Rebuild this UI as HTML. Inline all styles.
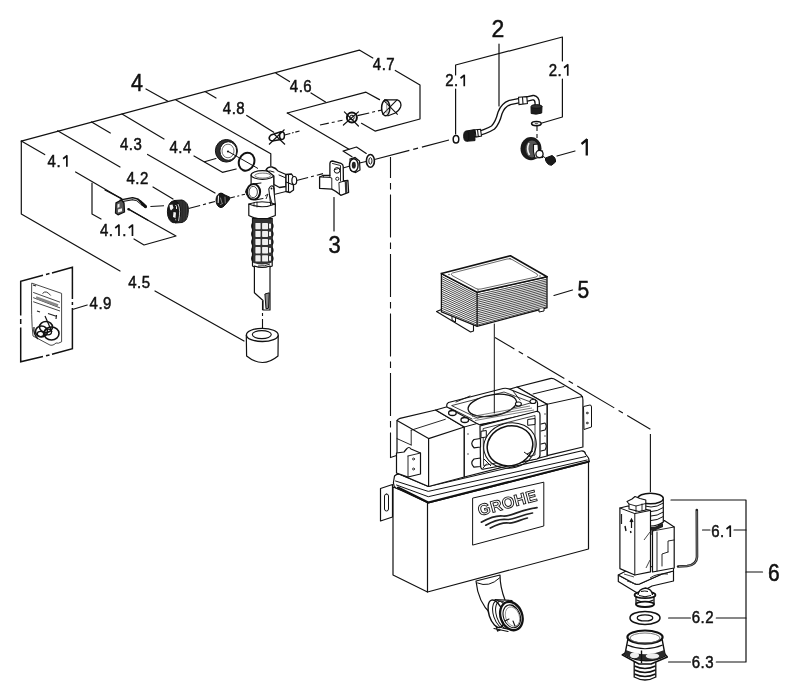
<!DOCTYPE html>
<html><head><meta charset="utf-8">
<style>
html,body{margin:0;padding:0;background:#fff;width:800px;height:700px;overflow:hidden}
svg{display:block;will-change:transform}
text{font-family:"Liberation Sans",sans-serif;fill:#111}
.lbl text{stroke:#111;stroke-width:0.45}
.s{fill:none;stroke:#111;stroke-width:1.2;stroke-linecap:round;stroke-linejoin:round}
.t{fill:none;stroke:#222;stroke-width:0.8}
.dd{fill:none;stroke:#111;stroke-width:1.1;stroke-dasharray:38 4 6 4}
.d2{fill:none;stroke:#111;stroke-width:1.1;stroke-dasharray:14 4 4 4}
.f{fill:#fff;stroke:#111;stroke-width:1.2;stroke-linejoin:round}
.k{fill:#1a1a1a;stroke:#111;stroke-width:1}
</style></head>
<body>
<svg width="800" height="700" viewBox="0 0 800 700">
<rect width="800" height="700" fill="#fff"/>

<!-- ===== structure lines ===== -->
<g id="struct" class="s">
  <path d="M21.3,141.1 L359.3,50.1 L372.8,58"/>
  <path d="M395.3,70.4 L420,85 L420,119 L375,131.1 L361.5,123.3"/>
  <path d="M21.3,141.1 L21.3,214 L120,271"/>
  <path d="M155,291 L244,341"/>
  <path d="M21.3,141.1 L44.7,154.6"/>
  <path d="M75.6,172 L122,199"/>
  <path d="M57.6,130.8 L120,167"/>
  <path d="M91.6,121.9 L110.3,133"/>
  <path d="M122,114 L164,139"/>
  <path d="M146,89 L167.5,101"/>
  <path d="M176,100 L270.8,153.75 L270.8,166"/>
  <path d="M205,91.6 L216,98"/>
  <path d="M246.75,115.4 L273.75,132.25"/>
  <path d="M276,73.3 L289.5,81.6"/>
  <path d="M311,93 L325.5,102"/>
  <path d="M287.3,113 L366,92.2 L379.5,99.6"/>
  <path d="M287.3,113 L349,149.25"/>
  <path d="M352,156.75 L343,151.1 L356.5,147 L366.25,153.4"/>
  <path d="M147.6,154.4 L215,193"/>
  <path d="M194,156 L222.4,172.3 L236.2,169"/>
  <path d="M204.5,161.75 L215.9,158.5"/>
  <path d="M92,183 L92,214 L101,219"/>
  <path d="M128,209 L176,236 L144,245 L134,239"/>
  <path d="M153,187 L173,199"/>
  <!-- 2 bracket -->
  <path d="M455.6,89 L455.6,134"/>
  <path d="M455.6,75 L455.6,65 L562.4,37 L562.4,61"/>
  <path d="M562.4,79 L562.4,117 L542,123"/>
  <path d="M499,44 L499,106"/>
  <path d="M557,156 L575,151"/>
  <!-- 3 leader -->
  <path d="M334,197.5 L334,231"/>
  <!-- 4.9 leader -->
  <path d="M73.2,309.2 L87.2,305"/>
  <!-- 5 leader -->
  <path d="M554,295.5 L572.5,290"/>
  <!-- 6 bracket -->
  <path d="M671,500 L746,500 L746,662 L716.3,662 M690.5,662 L668.6,662"/>
  <path d="M702.5,530 L710,530 M734,530 L746,530"/>
  <path d="M668.6,618 L690.5,618 M716.3,618 L746,618"/>
  <path d="M746,572 L762.5,572"/>
</g>

<!-- ===== dash-dot centre lines ===== -->
<g class="dd">
  <path d="M390.5,157 L390.5,457.5 L398,455" style="stroke-dasharray:43 5 6.5 5;stroke-dashoffset:22"/>
  <path d="M495,337.5 L650.4,429.2" style="stroke-dasharray:43 5 5 5;stroke-dashoffset:20.5"/>
  <path d="M650.4,434 L650.4,492" style="stroke-dasharray:none"/>
  <path d="M374.5,159.5 L453,139" style="stroke-dasharray:36 4 5 4 28 4 4 4 40"/>
</g>
<g class="d2">
  <path d="M150.4,206.5 L164,205.8"/>
  <path d="M188.5,208.5 L215,201.5" style="stroke-dasharray:12 3 3 3"/>
  <path d="M230,198 L245,194.2" style="stroke-dasharray:5 2.5 2 2.5"/>
  <path d="M296.5,180.5 L323,173.6" style="stroke-dasharray:12 3 3 3"/>
  <path d="M343,168 L350,166"/>
  <path d="M359.5,163 L366,161.5"/>
  <path d="M262.5,301 L262.5,333" style="stroke-dasharray:9 3 3 3"/>
  <path d="M284.5,135 L299.5,131" style="stroke-dasharray:6 1.8 1.6 1.8 6"/>
  <path d="M320,125 L342.5,120.3" style="stroke-dasharray:9 3 3 3"/>
  <path d="M357.5,115.6 L381.9,110" style="stroke-dasharray:12 3 3 3"/>
  <path d="M537,126 L537,138" style="stroke-dasharray:5 3"/>
</g>

<!-- ===== cistern ===== -->
<g id="cistern">
  <!-- body -->
  <path class="f" d="M393,487 L427.5,500 L588.5,460 L588.5,549 L427.5,592 L393,575 Z"/>
  <path class="s" d="M427.5,500 L427.5,592"/>
  <!-- logo panel -->
  <path class="s" d="M473,498 L543.8,482.2 L543.8,526 L473,545 Z" style="stroke-width:1"/>
  <path d="M481.3,522.2 C489,518 496,515 503,516 C511,517 519,510 537,507.6 M485.8,525.2 C493,521 500,518.5 507,519.5 C514,520 520,515 532.5,513 M490.3,528 C497,524.5 503,522 509,523 C515,523.5 520,519.5 527.4,518" fill="none" stroke="#222" stroke-width="1.7" stroke-linecap="round"/>
  <g transform="translate(479.5,516) rotate(-15)">
    <text x="0" y="0" font-size="16" font-weight="bold" style="fill:#fff;stroke:#111;stroke-width:0.9;letter-spacing:0.4px">GROHE</text>
  </g>
  <!-- left bracket -->
  <path class="f" d="M380.5,488.5 L392.5,484.5 L392.5,517 L380.5,521 Z"/>
  <rect x="384.5" y="494" width="4" height="17" rx="2" class="s" style="stroke-width:1"/>
  <!-- rim -->
  <path class="f" d="M394.5,476 Q397,473.5 400,474.5 L428.3,486.5 L581,451 Q585,450.5 585.5,454 L588.5,458 Q589.5,461 588.5,462 L428.3,503 L396,488 Q393,486 393.5,482 Z"/>
  <path class="s" d="M395.5,481 L428.3,491.4 L585.8,456.5" style="stroke-width:1"/>
  <path class="s" d="M396.5,485 L428.3,496.7 L587.1,460" style="stroke-width:1"/>
  <path class="s" d="M398,487.5 L428.3,502.5 L589,461.5" style="stroke-width:2"/>
  <!-- left lid block -->
  <path class="f" d="M397,470 L397,421 Q397.5,419 400,418.3 L435.7,410 L464.3,427 L464.3,477 L428.6,486.5 L397,473 Z"/>
  <path class="s" d="M397,420.5 L428.6,438.6 L464.3,427 M428.6,438.6 L428.6,486" />
  <path class="s" d="M411.2,430.2 L445.3,419.3 M411.2,430.2 L411.2,445 M397,438.6 L411.2,445" style="stroke-width:0.9"/>
  <!-- hinge bracket on left block -->
  <path class="f" d="M396.5,453 L404,452 L406.5,449 Q409,446 411,449 L420.5,453 L420.5,474 L408,477 L396.5,473 Z"/>
  <path class="s" d="M408,456 L408,477 M408,456 L420.5,453" style="stroke-width:0.9"/>
  <circle cx="413.5" cy="459" r="1" class="s" style="stroke-width:0.8"/>
  <circle cx="413.5" cy="469" r="1" class="s" style="stroke-width:0.8"/>
  <!-- right lid block -->
  <path class="f" d="M517,387 L550,378.6 Q553,378 556,380 L581,395 Q583,397 582.9,400 L582.9,447 L547,455.7 L547,404.3 Z"/>
  <path class="s" d="M547,404.3 L582.5,396.5 M533,394 L564,386.5 M547,404 L547,455.7" style="stroke-width:1"/>
  <path class="f" d="M583.5,406.5 L590,405 Q591.5,405 591.5,407 L591.5,427 L584,429.5 Z" style="stroke-width:1"/>
  <circle cx="587.2" cy="413" r="0.9" class="s" style="stroke-width:0.8"/>
  <circle cx="587.2" cy="423" r="0.9" class="s" style="stroke-width:0.8"/>
  <!-- middle section -->
  <path class="f" d="M435.7,410 L517,387 L547,404.3 L547,456 L464.3,477 L464.3,427 Z"/>
  <path class="s" d="M464.3,427 L547,404.3" style="stroke-width:1"/>
  <!-- top plate -->
  <path class="f" d="M448.5,402.5 L503,388.5 Q506,387.8 509,389 L535,399.5 Q538,401 537.5,404 L537.5,412 L480,425 L476,423 L447,407 Q446,404 448.5,402.5 Z" style="stroke-width:1.2"/>
  <path class="s" d="M452,405.5 L504,392 L532,402.5 L478,418 Z" style="stroke-width:0.8"/>
  <ellipse cx="492.3" cy="405.4" rx="24.5" ry="10.5" transform="rotate(-10 492.3 405.4)" class="f" style="stroke-width:1.3"/>
  <path d="M472,416.5 L530,406 M473.5,418.5 L532,408 M475,420.5 L534,410" fill="none" stroke="#444" stroke-width="0.7"/>
  <ellipse cx="452.4" cy="413" rx="3.8" ry="2.5" fill="#fff" stroke="#111" stroke-width="1.3"/>
  <ellipse cx="464.75" cy="420" rx="3.8" ry="2.5" fill="#fff" stroke="#111" stroke-width="1.3"/>
  <ellipse cx="518.4" cy="404" rx="3" ry="2" fill="#fff" stroke="#111" stroke-width="1.1"/>
  <ellipse cx="533" cy="401.5" rx="3" ry="2" fill="#fff" stroke="#111" stroke-width="1.1"/>
  <path class="s" d="M450,408 L472,419 M456,402 L470,396 M513,391 L520,400" style="stroke-width:0.9"/>
  <path d="M479.9,424.7 L539,413.7" stroke="#111" stroke-width="1.2"/>
  <!-- front ring frame -->
  <path class="f" d="M480,426 L536,411.5 Q540,411 540,415 L540,455 Q540,458 537,459 L484,469 Q481,470 480.5,466 Z" style="stroke-width:1.2"/>
  <path class="s" d="M483.5,428.5 L535,415.5 L535,455 L484,465.5 Z" style="stroke-width:0.8"/>
  <ellipse cx="510" cy="445.5" rx="26.5" ry="22.5" transform="rotate(-15 510 445.5)" fill="none" stroke="#111" stroke-width="1"/>
  <ellipse cx="510" cy="445.8" rx="23" ry="19.8" transform="rotate(-15 510 445.8)" class="f" style="stroke-width:1.5"/>
  <path class="f" d="M481,431.3 L486.3,430.5 L486.3,437 L481,437.8 Z M527.7,419.5 L535,418.5 L535,424.5 L527.7,425.3 Z" style="stroke-width:1"/>
  <path d="M484,459 L491,466 M487,463.5 L483,468 M531,457 L524,452 M527,454 L533,451" stroke="#111" stroke-width="1"/>
  
  <path class="f" d="M480.5,438.5 L474,439.5 Q469.5,443.5 474,447.8 L480.5,447 Z M480.5,458 L474,459 Q469.5,463 474,467.2 L480.5,466.5 Z" style="stroke-width:1.2"/>
  <g fill="#222"><circle cx="468" cy="434" r="0.7"/><circle cx="468" cy="454" r="0.7"/><circle cx="545" cy="414" r="0.7"/><circle cx="545" cy="436" r="0.7"/></g>
  <path class="s" d="M541,424 L545,423 Q547.5,426 545,430 L541,431 M541,444 L545,443 Q547.5,446 545,450 L541,451" style="stroke-width:1.1"/>
  <!-- drain pipe -->
  <path class="f" d="M476,581 Q478,602 491,614 L505,600 Q500,587 500,575 Z"/>
  <path class="s" d="M477.5,583 Q489,588 499.5,578" style="stroke-width:1"/>
  <path class="f" d="M495,599.5 L512,600.5 L510,631.5 L494,628.5 Z" style="stroke:none"/>
  <path class="s" d="M495,599.5 L512,600.5 M494,628.5 L508,631.5" style="stroke-width:1.2"/>
  <ellipse cx="496" cy="613.8" rx="7" ry="14.3" transform="rotate(-18 496 613.8)" class="f" style="stroke-width:1.4"/>
  <ellipse cx="501" cy="614.6" rx="7.5" ry="14.5" transform="rotate(-18 501 614.6)" fill="none" stroke="#111" stroke-width="1"/>
  <ellipse cx="504" cy="615" rx="7.5" ry="14.5" transform="rotate(-18 504 615)" fill="none" stroke="#111" stroke-width="1"/>
  <ellipse cx="511.4" cy="616" rx="10.8" ry="14.6" transform="rotate(-20 511.4 616)" fill="#fff" stroke="#111" stroke-width="2.3"/>
  <ellipse cx="511.8" cy="616.3" rx="8.3" ry="11.8" transform="rotate(-20 511.8 616.3)" fill="none" stroke="#111" stroke-width="1.1"/>
  <ellipse cx="512.5" cy="616.6" rx="6.8" ry="10" transform="rotate(-20 512.5 616.6)" fill="none" stroke="#777" stroke-width="0.7"/>
  <path class="s" d="M512,605 L516,608 M505,621 L509,619 M515,626 L513,621" style="stroke-width:1.1"/>
  <path d="M496,626 L497.5,631 L500.5,630" fill="none" stroke="#111" stroke-width="1.1"/>
</g>

<path class="s" d="M494.3,324 L494.3,413" style="stroke-width:1"/>

<!-- ===== part 4 group ===== -->
<g id="p4">
  <!-- 4.1.1 clip -->
  <path d="M121,200.8 L132.5,198.6 L137.5,199.8 L143,204.5" style="fill:none;stroke:#111;stroke-width:3.2;stroke-linecap:round;stroke-linejoin:round"/>
  <path d="M122,200.8 L132.5,198.8 L137,200 L141.5,204" style="fill:none;stroke:#bbb;stroke-width:1;stroke-linecap:round;stroke-linejoin:round"/>
  <path d="M142.5,204 L145.5,206.5" style="stroke:#111;stroke-width:3;stroke-linecap:round"/>
  <path d="M116,202.8 L121.5,200 L124,203 L124.5,212 L118,214.8 L115.5,213 Z" style="fill:#555;stroke:#111;stroke-width:1.3;stroke-linejoin:round"/>
  <path d="M117.5,204.5 L119.5,203.5 L119.5,207 L117.5,208 Z M118,209.5 L122,208.3 L122,211.3 L118,212.5 Z" fill="#f0f0f0"/>
  <circle cx="128.7" cy="209.3" r="1.2" fill="#111"/>
  <path class="s" d="M129,209.3 L147.6,220"/>
  <path class="s" d="M105,190 L121.5,198.6"/>
  <!-- pin -->
  <path d="M140.5,201.5 L145.5,207" style="stroke:#111;stroke-width:2.4;stroke-linecap:round"/>
  <!-- 4.2 nut -->
  <path d="M174,200.5 L182,200 Q189,202 188.3,211 Q188,221 182,222.5 L175,223 Z" fill="#2a2a2a" stroke="#111" stroke-width="1"/>
  <path d="M181,201 L181,222.5 M184,201 L184,222 M186.5,203 L186.5,220" stroke="#444" stroke-width="0.6"/>
  <ellipse cx="174" cy="211.8" rx="6.6" ry="11" fill="#1a1a1a" stroke="#111" stroke-width="1"/>
  <path d="M178,204 Q181,210 178.5,221" fill="none" stroke="#ddd" stroke-width="0.9"/>
  <path d="M169.5,205 L172.5,204.5 L173.5,208 L171,210.5 L170,209 Z M173.5,212 L176,212.5 L175.5,218 L173,217 Z M175,218.5 Q177,219.5 176,221" fill="#f4f4f4" stroke="none"/>
  <path d="M175.5,205 Q177,206 176.5,209" fill="none" stroke="#eee" stroke-width="1"/>
  <!-- 4.3 cone -->
  <path d="M220,193.3 L225,195 L229.8,197.2 L229.5,199.5 L225.5,204.5 L220.5,207.5 Z" fill="#1a1a1a" stroke="#111" stroke-width="1"/>
  <ellipse cx="221" cy="200.3" rx="5" ry="7.2" fill="#1a1a1a" stroke="#111" stroke-width="1"/>
  <path d="M218.5,196 L218.2,202.5" stroke="#eee" stroke-width="1.1" stroke-linecap="round"/>
  <path d="M220.5,198 L222,203 M220.5,204.5 L222.5,203.5 M225,197 L225.3,203" stroke="#888" stroke-width="0.9" stroke-linecap="round"/>
  <!-- 4.4 nut -->
  <ellipse cx="226.4" cy="150.8" rx="11" ry="11.3" fill="#2e2e2e" stroke="#111" stroke-width="1"/>
  <ellipse cx="228.3" cy="151" rx="8.4" ry="9.3" fill="#fff" stroke="#111" stroke-width="1"/>
  <ellipse cx="228" cy="151" rx="6" ry="6.8" fill="none" stroke="#333" stroke-width="0.7"/>
  <circle cx="228" cy="151.5" r="1.1" fill="#111"/>
  <path d="M228.4,151.6 L258,168.5" stroke="#111" stroke-width="1"/>
  <!-- O-ring -->
  <ellipse cx="246.6" cy="161.7" rx="7.6" ry="9.2" transform="rotate(22 246.6 161.7)" fill="none" stroke="#111" stroke-width="2"/>
  <!-- valve body -->
  <path class="f" d="M251.1,175 L251.1,203 L275.3,203 L273.9,175 Z" style="stroke:none"/>
  <path class="s" d="M251.1,175 L251.1,186 M273.9,175 L273.9,203"/>
  <ellipse cx="262.5" cy="175" rx="11.4" ry="4.3" class="f"/>
  <ellipse cx="262.8" cy="175.6" rx="8" ry="2.5" fill="none" stroke="#555" stroke-width="0.8"/>
  <!-- arm -->
  <path class="f" d="M266,169.8 Q268,166.5 272,167 Q276,168 278,171 L286,174.5 L286,186.5 L279.5,187.5 L274,184.5 L273.9,176 Z" style="stroke-width:1.3"/>
  <path class="s" d="M274,172 Q270,170 267,171.5 M279,175 L286,178 M274,194.5 L286,191.5 M274,188 L274,194.5" style="stroke-width:1"/>
  <path class="f" d="M286,174.5 L291.5,174 L293.5,177 L293.5,190 L290,192.5 L286,191.5 Z" style="stroke-width:1.3"/>
  <path d="M288.5,174.5 L288.5,192 M286,182 L293.5,185" stroke="#111" stroke-width="1.1"/>
  <ellipse cx="294.3" cy="180.5" rx="2.4" ry="4" fill="#fff" stroke="#111" stroke-width="1.2"/>
  <!-- front outlet ring -->
  <path class="f" d="M253,184.5 L262,183.5 L264,198 L256,200 Z" style="stroke:none"/>
  <path class="s" d="M253,184 L261,183 M255.5,200 L263,198.5" style="stroke-width:1"/>
  <ellipse cx="253.5" cy="191.8" rx="6.6" ry="7.8" fill="#fff" stroke="#111" stroke-width="2"/>
  <ellipse cx="253.2" cy="192" rx="4.2" ry="5.6" fill="none" stroke="#111" stroke-width="0.8"/>
  <path d="M246.5,189 L245.5,192 L247,195" fill="none" stroke="#111" stroke-width="1"/>
  <!-- lever plate -->
  <path class="f" d="M268.8,189 Q270.5,184.5 273.5,186.5 L275.5,206 L271,207.5 Z" style="stroke-width:1.1"/>
  <circle cx="271.5" cy="188.5" r="1" fill="#111"/>
  <path d="M269.5,195 L272.5,205 M265,196 L268,194 L266,199" fill="none" stroke="#111" stroke-width="0.9"/>
  <!-- collar -->
  <path class="f" d="M248.8,204 L248.8,215.5 Q262,222.5 275.3,215.5 L275.3,204 Q262,209.5 248.8,204 Z"/>
  <path class="s" d="M248.8,204 Q262,199.5 275.3,204" style="stroke-width:1"/>
  <path class="s" d="M254,203 L254,206 M257,202 L257,207" style="stroke-width:0.8"/>
  <!-- float -->
  <path d="M252.5,218.5 L272.2,218.5 L272.2,266 Q262,271 252.5,266 Z" fill="#fff" stroke="#111" stroke-width="1.2"/>
  <path d="M252.8,219 L272,219 L272,262.5 Q262,266.5 252.8,262.5 Z" fill="#333"/>
  <g fill="#f0f0f0"><rect x="255.4" y="222.9" width="5.2" height="6.3" rx="0.6"/><rect x="262.1" y="222.9" width="5.9" height="6.3" rx="0.6"/><rect x="269" y="223.70000000000002" width="2" height="4.699999999999999"/><rect x="255.4" y="230.9" width="5.2" height="6.0" rx="0.6"/><rect x="262.1" y="230.9" width="5.9" height="6.0" rx="0.6"/><rect x="269" y="231.70000000000002" width="2" height="4.4"/><rect x="255.4" y="238.9" width="5.2" height="6.0" rx="0.6"/><rect x="262.1" y="238.9" width="5.9" height="6.0" rx="0.6"/><rect x="269" y="239.70000000000002" width="2" height="4.4"/><rect x="255.4" y="247.1" width="5.2" height="6.3" rx="0.6"/><rect x="262.1" y="247.1" width="5.9" height="6.3" rx="0.6"/><rect x="269" y="247.9" width="2" height="4.699999999999999"/><rect x="255.4" y="255.3" width="5.2" height="6.2" rx="0.6"/><rect x="262.1" y="255.3" width="5.9" height="6.2" rx="0.6"/><rect x="269" y="256.1" width="2" height="4.6"/></g>
  <path d="M252.5,223.4 q-1.5,2.6 0,5.2 M272.2,223.4 q1.5,2.6 0,5.2 M252.5,231.4 q-1.5,2.6 0,5.2 M272.2,231.4 q1.5,2.6 0,5.2 M252.5,239.4 q-1.5,2.6 0,5.2 M272.2,239.4 q1.5,2.6 0,5.2 M252.5,247.6 q-1.5,2.6 0,5.2 M272.2,247.6 q1.5,2.6 0,5.2 M252.5,255.8 q-1.5,2.6 0,5.2 M272.2,255.8 q1.5,2.6 0,5.2" fill="none" stroke="#111" stroke-width="1.3"/>
  <path d="M258,266 Q265,266.5 270,264" fill="none" stroke="#111" stroke-width="0.9"/>
  <!-- shaft -->
  <path class="f" d="M254.4,266 L254.4,292.8 L263,300.5 L263,310 L270,310 L270,266 Q262,269 254.4,266 Z"/>
  <path d="M264.9,294 L269.3,292.8 L268.5,308.3 L266,308.8 Z" fill="#888" stroke="#111" stroke-width="1"/>
  <!-- 4.5 cylinder -->
  <path class="f" d="M246.3,335 L246.6,356 Q262.5,369 278,356 L278.2,335"/>
  <ellipse cx="262.3" cy="334.9" rx="15.9" ry="6.6" class="f" style="stroke-width:1.3"/>
  <ellipse cx="261.8" cy="334.6" rx="9.5" ry="4" fill="none" stroke="#111" stroke-width="1.1"/>
  <!-- 4.8 -->
  <path d="M281,131.8 L271,135 Q268,137.5 270,140 Q271.5,141.3 273.5,140.8 L282.5,139.3" fill="#fff" stroke="#111" stroke-width="1.6"/>
  <ellipse cx="282" cy="135.6" rx="2.4" ry="3.9" fill="#fff" stroke="#111" stroke-width="1.5"/>
  <path d="M269,144.5 L284.5,129.5 M274,134 L285,144.5" stroke="#111" stroke-width="1.2"/>
  <!-- 4.6 -->
  <circle cx="351.9" cy="117.5" r="5" fill="#fff" stroke="#111" stroke-width="2"/>
  <circle cx="351.9" cy="117.5" r="2.3" fill="none" stroke="#111" stroke-width="1"/>
  <path class="s" d="M344.4,111.9 L358.4,126 M358.4,111.9 L343.4,125" style="stroke-width:1.2"/>
  <!-- 4.7 -->
  <path d="M384,99.9 L397.4,99.9 Q402,102 400.6,107 Q399,111 394.7,113.2 L387.5,116" fill="#fff" stroke="#111" stroke-width="1.2"/>
  <ellipse cx="385.7" cy="107.9" rx="4.1" ry="7.9" fill="none" stroke="#111" stroke-width="1.5"/>
  <path d="M383.7,100.3 L397.7,114.7 M397,99.9 L382.5,114.7" stroke="#111" stroke-width="1.1"/>
  <path d="M386.5,101 L387,113.5" stroke="#777" stroke-width="0.8"/>
  <!-- part 3 bracket -->
  <path class="f" d="M329.9,175.5 L329.9,163.5 Q330.2,161 332.5,161 L341,163.3 Q343.2,164 343.2,166.5 L343.4,181 L347.9,180.5 L348.6,192.3 L340.8,195.3 Q336,191 331.8,189.1 L319.6,188.4 L319.6,177 L323,175.5 Z" style="stroke-width:1.3"/>
  <path class="s" d="M332.5,163.5 L340.5,165.5 L340.5,181 M319.6,177 L329.9,177.5 L331.8,178 L331.8,189 M329.9,175.5 L329.9,177.5 M323,175.5 L323.5,177" style="stroke-width:0.9"/>
  <path d="M338.9,182.6 L343.4,181.3 L347.9,180.5" fill="none" stroke="#111" stroke-width="1"/>
  <path d="M338.9,182.6 L339.5,194.5" stroke="#111" stroke-width="0.9"/>
  <path d="M345.8,181.5 L346.3,193" stroke="#333" stroke-width="2.2"/>
  <circle cx="337" cy="170.4" r="2.8" fill="#fff" stroke="#111" stroke-width="1"/>
  <circle cx="337.3" cy="178.8" r="1.6" fill="#fff" stroke="#111" stroke-width="0.9"/>
  <path d="M334,170 L340,168" stroke="#111" stroke-width="0.8"/>
  <!-- nut + washer -->
  <path d="M350,159 L355,157.5 L359.5,161 L360,170 L355.5,172.5 L350.5,170 Z" fill="#fff" stroke="#111" stroke-width="1.2"/>
  <ellipse cx="353.8" cy="165.2" rx="4.3" ry="6.5" fill="#fff" stroke="#111" stroke-width="1.4"/>
  <ellipse cx="353.8" cy="165.2" rx="2" ry="3.4" fill="#222"/>
  <ellipse cx="370.4" cy="160.9" rx="4" ry="6.4" fill="#fff" stroke="#111" stroke-width="1.6"/>
  <ellipse cx="370.4" cy="160.9" rx="1.6" ry="3.2" fill="none" stroke="#111" stroke-width="1"/>
</g>

<!-- ===== part 2 / 1 ===== -->
<g id="p2">
  <ellipse cx="456" cy="139.2" rx="2.8" ry="3.8" fill="#fff" stroke="#111" stroke-width="1.5"/>
  <path d="M473,134.9 Q486,132 493,127.5 Q497.5,123 500,113 Q503,105 510,102.5 L526,99.2 L533.4,97.6 Q537.5,98.5 537.2,104 L537,107" fill="none" stroke="#111" stroke-width="5.6" stroke-linecap="butt" stroke-linejoin="round"/>
  <path d="M473,134.9 Q486,132 493,127.5 Q497.5,123 500,113 Q503,105 510,102.5 L526,99.2 L533.4,97.6 Q537.5,98.5 537.2,104 L537,107" fill="none" stroke="#fff" stroke-width="3" stroke-linecap="butt" stroke-linejoin="round"/>
  <path d="M475,129.8 L480.5,129.3 L481.5,136 L476,137 Z M518.5,97.3 L526.8,96.6 L527.4,103.5 L519,104.6 Z" fill="#fff" stroke="#111" stroke-width="1.1"/>
  <path d="M477.5,129.5 L478.3,136.5 M522.5,97 L523,104" stroke="#111" stroke-width="1.1"/>
  <path d="M466.5,131 L474.5,129.6 L475,140.6 L467,141.2 Z" fill="#1c1c1c" stroke="#111" stroke-width="1"/>
  <ellipse cx="466.3" cy="136.1" rx="2.6" ry="5.1" fill="#1c1c1c" stroke="#111" stroke-width="1"/>
  <path d="M531,107 L542,106 L541.7,113 Q536.5,115 531.2,113.5 Z" fill="#1c1c1c" stroke="#111" stroke-width="1"/>
  <ellipse cx="536.4" cy="106.5" rx="5.4" ry="1.9" fill="#333" stroke="#111" stroke-width="1"/>
  <ellipse cx="536.4" cy="123.6" rx="4.8" ry="2.1" fill="#fff" stroke="#111" stroke-width="1.6"/><ellipse cx="536.4" cy="123.6" rx="1.8" ry="0.8" fill="#666"/>
  <!-- part 1 -->
  <ellipse cx="531" cy="148.6" rx="10.5" ry="11.6" fill="#1a1a1a"/>
  <ellipse cx="532" cy="149" rx="6.5" ry="8.5" fill="#555"/>
  <path d="M529,143 Q526,149 529.5,155" fill="none" stroke="#eee" stroke-width="1.6"/>
  <path d="M533.5,144.5 L538,144 L538.5,151 L542.5,151 L542.5,157.5 L535,158 L533.5,152 Z" fill="#fff" stroke="#111" stroke-width="1.1"/>
  <circle cx="539.5" cy="154" r="3.6" fill="#fff" stroke="#111" stroke-width="1.3"/>
  <path d="M545.5,158 L552,155.5 Q556,157.5 555.5,162 L551.5,165.3 Q547,165 545.5,160 Z" fill="#1a1a1a" stroke="#111" stroke-width="1"/>
  <path d="M542.5,156 L545.5,158" stroke="#111" stroke-width="1"/>
</g>

<!-- ===== part 4.9 ===== -->
<g id="p49">
  <path d="M20.7,315.5 L20.7,281.3 L43,275.3 M46,274.5 L49.5,273.6 M52,273 L72.4,267.3 L72.4,299 M72.4,302 L72.4,305 M72.4,308 L72.4,348.6 L52,354.2 M49.5,354.9 L46,355.8 M43,356.5 L20.7,361.7 L20.7,327.5 M20.7,324 L20.7,319" fill="none" stroke="#111" stroke-width="1.5"/>
  <path d="M31.7,283.1 L61.6,293.4 L61.6,341.8 Q58,344 56,343 Q52,347 48,344 L33,336 Q31,320 31.7,283.1 Z" fill="#fff" stroke="#333" stroke-width="0.9"/>
  <path d="M33.2,292.4 L60,302.2 M33.2,297.6 L60,307.9 M33.2,301.7 L60,311" fill="none" stroke="#333" stroke-width="0.9"/>
  <path d="M36,297.5 L58,305.5" stroke="#888" stroke-width="2.6"/>
  <path d="M42.5,293.5 Q46,289.5 50.7,295.5" fill="none" stroke="#333" stroke-width="1"/>
  <path d="M33,285 L36,286 M37,311 L40,312 M48,313.5 L57,316.5 M56.5,315 L56,319" stroke="#222" stroke-width="1.2"/>
  <ellipse cx="41.5" cy="331.5" rx="6" ry="5.5" fill="none" stroke="#111" stroke-width="1.6"/>
  <ellipse cx="51.5" cy="333.5" rx="7.5" ry="6.5" fill="none" stroke="#111" stroke-width="1.6"/>
  <ellipse cx="46" cy="327" rx="6.5" ry="5.5" fill="none" stroke="#111" stroke-width="1.6"/>
  <ellipse cx="40.5" cy="334" rx="3.2" ry="2.6" fill="none" stroke="#111" stroke-width="1.3"/>
  <ellipse cx="48" cy="332" rx="3.5" ry="2.8" fill="none" stroke="#111" stroke-width="1.3"/>
  <path d="M45,316 L52,332 M34,327 Q33,334 38,339" fill="none" stroke="#111" stroke-width="1.2"/>
</g>

<!-- ===== part 5 ===== -->
<g id="p5">
  <!-- bracket -->
  <path class="f" d="M436.5,311.5 L441.5,309.5 L473.5,324.5 L473.5,331 L470.6,332 Z" style="stroke-width:1.1"/>
  <path d="M452,313 L452,320 L455.5,322 L455.5,315" fill="#fff" stroke="#111" stroke-width="1"/>
  <!-- sides -->
  <path d="M441.4,273.6 L477.1,292.3 L547,276.8 L547,307.7 L477.1,326.4 L441.4,311.75 Z" fill="#fff" stroke="#111" stroke-width="1.3"/>
  <g id="stripes" stroke="#2a2a2a" stroke-width="0.85" fill="none"><path d="M441.4,276.32 L477.1,294.79 L547,279.12 M441.4,278.44 L477.1,296.69 L547,280.83 M441.4,280.56 L477.1,298.58 L547,282.55 M441.4,282.68 L477.1,300.48 L547,284.27 M441.4,284.80 L477.1,302.37 L547,285.98 M441.4,286.92 L477.1,304.27 L547,287.70 M441.4,289.04 L477.1,306.16 L547,289.42 M441.4,291.16 L477.1,308.06 L547,291.13 M441.4,293.28 L477.1,309.95 L547,292.85 M441.4,295.39 L477.1,311.84 L547,294.57 M441.4,297.51 L477.1,313.74 L547,296.28 M441.4,299.63 L477.1,315.63 L547,298.00 M441.4,301.75 L477.1,317.53 L547,299.72 M441.4,303.87 L477.1,319.42 L547,301.43 M441.4,305.99 L477.1,321.32 L547,303.15 M441.4,308.11 L477.1,323.21 L547,304.87 M441.4,310.23 L477.1,325.11 L547,306.58"/></g>
  <path d="M477.1,292.3 L477.1,326.4" stroke="#111" stroke-width="1.3"/>
  <!-- top -->
  <path d="M441.4,273.6 L510.4,255.7 L547,276.8 L477.1,292.3 Z" fill="#fff" stroke="#111" stroke-width="1.6" stroke-linejoin="round"/>
  <path d="M452,275.5 Q450,274 452.5,273 L507,259 Q510,258.5 512,259.5 L537,274 Q539,276 536,277 L481,289 Q478,289.5 476,288.5 Z" fill="none" stroke="#444" stroke-width="0.8"/><g fill="#333"><circle cx="449" cy="274.5" r="0.7"/><circle cx="510" cy="258.5" r="0.7"/><circle cx="540" cy="276" r="0.7"/><circle cx="478" cy="290" r="0.7"/></g>
  <path d="M539,309 L539,312 L544,311 L544,308" fill="#fff" stroke="#111" stroke-width="1"/>
</g>

<!-- ===== part 6 ===== -->
<g id="p6">
  <!-- hook wire -->
  <path d="M696.8,510 L697,557 Q696.5,565 687,566 L678,566.5" fill="none" stroke="#222" stroke-width="2.6" stroke-linecap="round"/>
  <path d="M696.8,511 L697,557 Q696.5,565 687,566 L679,566.5" fill="none" stroke="#888" stroke-width="0.9"/>
  <!-- base -->
  <path class="f" d="M618.3,575 L618.3,581.5 L635.6,592 Q638,593.5 641,592 L652,586 L673.5,581 L673.5,571 L662,574 L639.5,584 Q637,585 634,583.5 Z"/>
  <path class="f" d="M618.3,575 L626,571 L673.5,563 L673.5,571 L662,574 L639.5,584 Q637,585 634,583.5 Z" style="stroke-width:1.1"/>
  <path d="M624,574 L634,577 M627,581 L636,584" stroke="#333" stroke-width="0.9"/>
  <path d="M650,578 Q657,573 668,574" fill="none" stroke="#111" stroke-width="0.9"/>
  <!-- right section -->
  <path class="f" d="M652.5,531 L664.4,520.5 L674.2,527 L674.2,568 L652.5,572 Z"/>
  <path class="s" d="M652.5,531 L674.2,527 M657,532 L657,571 M668,552 L668,541 L674,540 M662,566 L662,554 L668,552" style="stroke-width:0.9"/>
  <!-- float cylinder -->
  <path class="f" d="M637.7,499 L638.7,522 Q651,530 663.3,522 L663.3,499 Z"/>
  <path d="M638.7,503 Q651,511 663.3,503 M638.7,507.5 Q651,515.5 663.3,507.5 M638.7,512 Q651,520 663.3,512 M638.7,516.5 Q651,524.5 663.3,516.5 M651,527 L651,535" fill="none" stroke="#111" stroke-width="1"/>
  <ellipse cx="650.5" cy="498.5" rx="12.8" ry="5.3" class="f" style="stroke-width:1.4"/>
  <path d="M640,523 Q651,531 663,523 L663,527 Q651,534 640,527 Z" fill="#222"/>
  <!-- main box -->
  <path class="f" d="M619.9,508 L628,506 L650.5,510.4 L650.5,571.8 L634.8,575 L619.9,568.6 Z"/>
  <path class="s" d="M619.9,508 L634.8,513.6 L650.5,510.4 M634.8,513.6 L634.8,575" style="stroke-width:1"/>
  <path d="M621.5,514 L621.5,524" stroke="#222" stroke-width="1.2"/>
  <path d="M631.5,519 L631.5,528 M630,522 L631.5,519 L633,522" fill="none" stroke="#111" stroke-width="1.2"/>
  <path d="M625,526 L626,531 M630.5,531 L631,533" stroke="#111" stroke-width="1.4"/>
  <!-- button -->
  <path class="f" d="M627,501.5 L632,499 L635,496.5 L640,498.5 L645.8,500 L645.8,510 L639,511.5 L629,509 L629,504 Z" style="stroke-width:1.1"/>
  <path class="s" d="M629,504 L636,506 L645.8,503.5 M636,506 L636,512 M642,504 L642,511" style="stroke-width:0.9"/>
  <path d="M644,540 L650,532 M646,568 L650,560" stroke="#333" stroke-width="0.9"/>
  <!-- nozzle under -->
  <path d="M636,597 L636,604 Q645,609.5 654,604 L654,597 Z" fill="#fff" stroke="#111" stroke-width="1.3"/>
  <path d="M636.5,600 Q645,604 653.5,600" fill="none" stroke="#111" stroke-width="1.2"/>
  <ellipse cx="645" cy="604.3" rx="9" ry="2.7" fill="#fff" stroke="#111" stroke-width="1.9"/>
  <ellipse cx="645" cy="595" rx="10.5" ry="3.2" fill="#fff" stroke="#111" stroke-width="1.8"/>
  <path d="M638,595 Q638.5,589 645.5,588 Q652,589 652.5,595" fill="#fff" stroke="#111" stroke-width="1.3"/>
  <path d="M641,591.5 Q645,590.5 648,591.5 M639,595.5 Q645,598 651,595.5" fill="none" stroke="#111" stroke-width="1"/>
  <!-- washer 6.2 -->
  <ellipse cx="645" cy="617.9" rx="15" ry="6.5" fill="#fff" stroke="#111" stroke-width="1.5"/>
  <ellipse cx="645" cy="617.9" rx="7.8" ry="3" fill="#fff" stroke="#111" stroke-width="1.2"/>
  <!-- 6.3 -->
  <path d="M634.2,662 L634.2,677 Q645,683 655.8,677 L655.8,662 Z" fill="#fff" stroke="#111" stroke-width="1.3"/>
  <path d="M634.5,666 Q645,671 655.5,666 M634.5,670 Q645,675 655.5,670 M634.5,674 Q645,679 655.5,674" fill="none" stroke="#111" stroke-width="1.5"/>
  <path d="M622.2,654.8 L627,652 L663,652 L667.4,657 L651,664 L639,664 Z" fill="#fff" stroke="#111" stroke-width="1.5" stroke-linejoin="round"/>
  <path d="M627.8,639.6 L624.8,655 Q645,666 665.2,656 L662.2,639.6 Z" fill="#fff" stroke="#111" stroke-width="1.4" stroke-linejoin="round"/>
  <path d="M625.8,650 Q645,658.5 664.3,650 L665,656 Q645,665 625,655 Z" fill="#2a2a2a"/>
  <ellipse cx="634.5" cy="655.3" rx="4.5" ry="2.8" fill="#eee"/>
  <ellipse cx="652.5" cy="656" rx="6.8" ry="2.8" fill="#eee"/>
  <path d="M641.5,650.5 L641.5,663" stroke="#111" stroke-width="1.4"/>
  <path d="M627.3,645 Q645,652.5 662.7,645" fill="none" stroke="#111" stroke-width="1.2"/>
  <ellipse cx="645" cy="637.1" rx="17.6" ry="6.6" fill="#fff" stroke="#111" stroke-width="2.2"/>
  <ellipse cx="645" cy="638" rx="15" ry="5" fill="none" stroke="#666" stroke-width="0.9"/>
</g>

<!-- ===== text ===== -->
<g class="lbl">
  <g transform="translate(131,91) scale(1,1.07)"><text x="0.00" y="0" font-size="21.5">4</text></g>
  <g transform="translate(47.4,166.8) scale(1,1.08)"><text x="0.00 9.04" y="0" font-size="15">4.</text><path d="M19.46,-10.74 L19.46,0 M19.76,-10.50 L15.71,-7.50" fill="none" stroke="#111" stroke-width="1.68"/></g>
  <g transform="translate(119.9,149.7) scale(1,1.08)"><text x="0.00 8.84 13.51" y="0" font-size="15">4.3</text></g>
  <g transform="translate(169.4,152.7) scale(1,1.08)"><text x="0.00 8.84 13.51" y="0" font-size="15">4.4</text></g>
  <g transform="translate(126.4,184) scale(1,1.08)"><text x="0.00 8.84 13.51" y="0" font-size="15">4.2</text></g>
  <g transform="translate(99.9,236) scale(1,1.08)"><text x="0.00 8.84 22.35" y="0" font-size="15">4..</text><path d="M19.06,-10.74 L19.06,0 M19.36,-10.50 L15.31,-7.50 M32.57,-10.74 L32.57,0 M32.87,-10.50 L28.82,-7.50" fill="none" stroke="#111" stroke-width="1.68"/></g>
  <g transform="translate(128.2,288) scale(1,1.08)"><text x="0.00 8.84 13.51" y="0" font-size="15">4.5</text></g>
  <g transform="translate(89.6,308.5) scale(1,1.08)"><text x="0.00 8.84 13.51" y="0" font-size="15">4.9</text></g>
  <g transform="translate(222.8,114) scale(1,1.08)"><text x="0.00 8.84 13.51" y="0" font-size="15">4.8</text></g>
  <g transform="translate(289.8,91.8) scale(1,1.08)"><text x="0.00 8.84 13.51" y="0" font-size="15">4.6</text></g>
  <g transform="translate(372.8,70.4) scale(1,1.08)"><text x="0.00 8.84 13.51" y="0" font-size="15">4.7</text></g>
  <g transform="translate(445.2,86.3) scale(1,1.08)"><text x="0.00 8.84" y="0" font-size="15">2.</text><path d="M19.06,-10.74 L19.06,0 M19.36,-10.50 L15.31,-7.50" fill="none" stroke="#111" stroke-width="1.68"/></g>
  <g transform="translate(548.7,75.8) scale(1,1.08)"><text x="0.00 8.84" y="0" font-size="15">2.</text><path d="M19.06,-10.74 L19.06,0 M19.36,-10.50 L15.31,-7.50" fill="none" stroke="#111" stroke-width="1.68"/></g>
  <g transform="translate(491.5,37.4) scale(1,1.05)"><text x="0.00" y="0" font-size="23">2</text></g>
  <g transform="translate(579,155.5) scale(1,1.1)"><path d="M7.77,-15.04 L7.77,0 M8.19,-14.70 L2.52,-10.50" fill="none" stroke="#111" stroke-width="2.31"/></g>
  <g transform="translate(328.5,252.5) scale(1,1.1)"><text x="0.00" y="0" font-size="22">3</text></g>
  <g transform="translate(577.5,298.3) scale(1,1.1)"><text x="0.00" y="0" font-size="21">5</text></g>
  <g transform="translate(768,580.5) scale(1,1.1)"><text x="0.00" y="0" font-size="21">6</text></g>
  <g transform="translate(711.2,537) scale(1,1.08)"><text x="0.00 8.84" y="0" font-size="15">6.</text><path d="M19.06,-10.74 L19.06,0 M19.36,-10.50 L15.31,-7.50" fill="none" stroke="#111" stroke-width="1.68"/></g>
  <g transform="translate(691.7,623) scale(1,1.08)"><text x="0.00 8.84 13.51" y="0" font-size="15">6.2</text></g>
  <g transform="translate(691.7,668) scale(1,1.08)"><text x="0.00 8.84 13.51" y="0" font-size="15">6.3</text></g>
</g>

</svg>
</body></html>
